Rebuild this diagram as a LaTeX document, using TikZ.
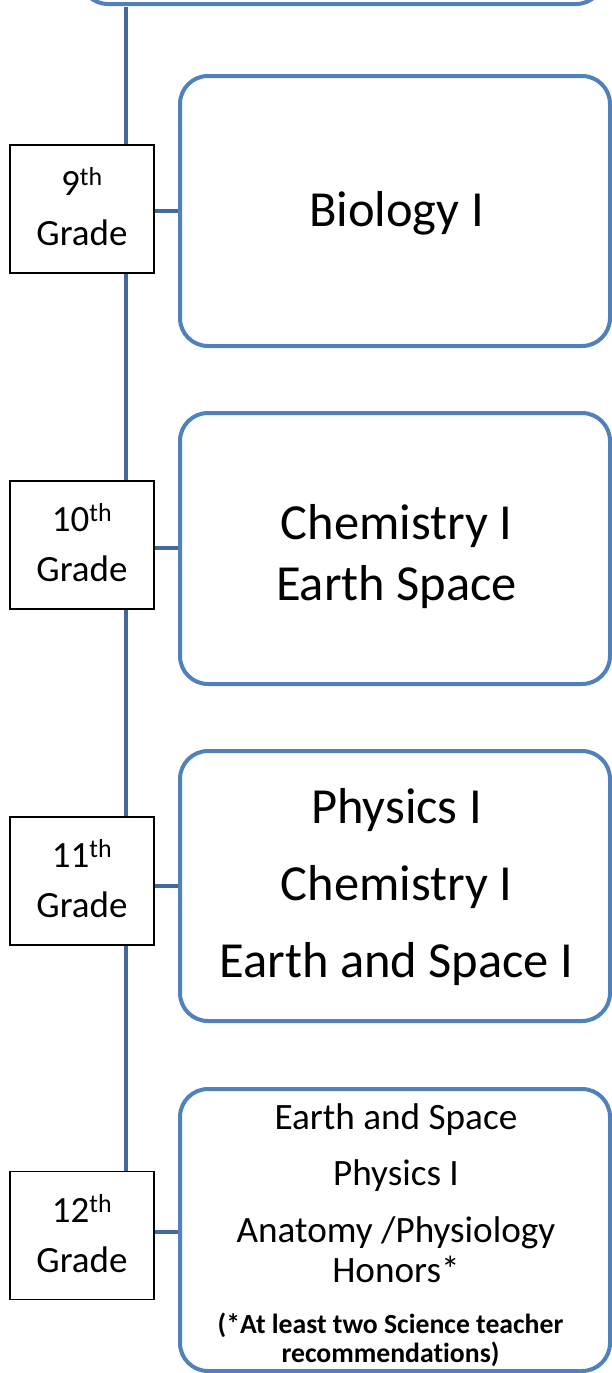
\documentclass[tikz,border=0pt]{standalone}
\usepackage{fontspec}
\setmainfont{Carlito}[Ligatures=NoCommon]
\definecolor{boxblue}{HTML}{4F81BD}
\definecolor{linkblue}{HTML}{41699A}
\tikzset{
  course/.style={draw=boxblue, line width=4pt, rounded corners=28pt, fill=white, minimum width=430pt, inner sep=0pt},
  grade/.style={draw=black, line width=1.5pt, fill=white, minimum width=144pt, minimum height=128pt, inner sep=0pt},
  big/.style={anchor=base, font=\fontsize{50.5}{58}\selectfont, inner sep=0pt},
  mid/.style={anchor=base, font=\fontsize{37.2}{42}\selectfont, inner sep=0pt},
  small/.style={anchor=base, font=\fontsize{27.7}{32}\bfseries\selectfont, inner sep=0pt},
  gtxt/.style={anchor=base, font=\fontsize{37}{42}\selectfont, inner sep=0pt},
  link/.style={draw=linkblue, line width=4.5pt},
}
\begin{document}
\begin{tikzpicture}[x=1pt,y=-1pt]
\useasboundingbox (0,0) rectangle (612,1373);
\clip (0,0) rectangle (612,1373);
% top box (cut off)
\node[course, minimum width=524pt, minimum height=200pt] (top) at (342,-96) {};
% spine
\coordinate (spinetop) at (126,7);
\coordinate (spinebot) at (126,1172);
\draw[link] (spinetop) -- (spinebot);
% course boxes
\node[course, minimum height=270pt] (b1) at (395,211) {};
\node[course, minimum height=271pt] (b2) at (395,548.5) {};
\node[course, minimum height=270pt] (b3) at (395,886) {};
\node[course, minimum height=282pt] (b4) at (395,1230) {};
% grade boxes
\node[grade] (g1) at (82,209) {};
\node[grade] (g2) at (82,545) {};
\node[grade] (g3) at (82,881) {};
\node[grade] (g4) at (82,1235.5) {};
% connectors
\draw[link] (g1.east |- 0,211) -- (b1.west |- 0,211);
\draw[link] (g2.east |- 0,548) -- (b2.west |- 0,548);
\draw[link] (g3.east |- 0,886) -- (b3.west |- 0,886);
\draw[link] (g4.east |- 0,1232) -- (b4.west |- 0,1232);
% grade labels
\node[gtxt] (g1a) at (82,195) {9\textsuperscript{th}};
\node[gtxt] (g1b) at (82,245) {Grade};
\node[gtxt] (g2a) at (82,531) {10\textsuperscript{th}};
\node[gtxt] (g2b) at (82,581) {Grade};
\node[gtxt] (g3a) at (82,867) {11\textsuperscript{th}};
\node[gtxt] (g3b) at (82,917) {Grade};
\node[gtxt] (g4a) at (82,1222) {12\textsuperscript{th}};
\node[gtxt] (g4b) at (82,1272) {Grade};
% course texts
\node[big] (t1) at (396.5,226) {Biology I};
\node[big] (t2a) at (396.5,539) {Chemistry I};
\node[big] (t2b) at (396.5,600) {Earth Space};
\node[big] (t3a) at (396.5,823) {Physics I};
\node[big] (t3b) at (396.5,900) {Chemistry I};
\node[big] (t3c) at (396.5,977) {Earth and Space I};
\node[mid] (t4a) at (396,1129) {Earth and Space};
\node[mid] (t4b) at (396,1185) {Physics I};
\node[mid] (t4c) at (396,1242) {Anatomy /Physiology};
\node[mid] (t4d) at (396,1282) {Honors*};
\node[small] (t4e) at (390.5,1333) {(*At least two Science teacher};
\node[small] (t4f) at (390.5,1362) {recommendations)};
\end{tikzpicture}
\end{document}
